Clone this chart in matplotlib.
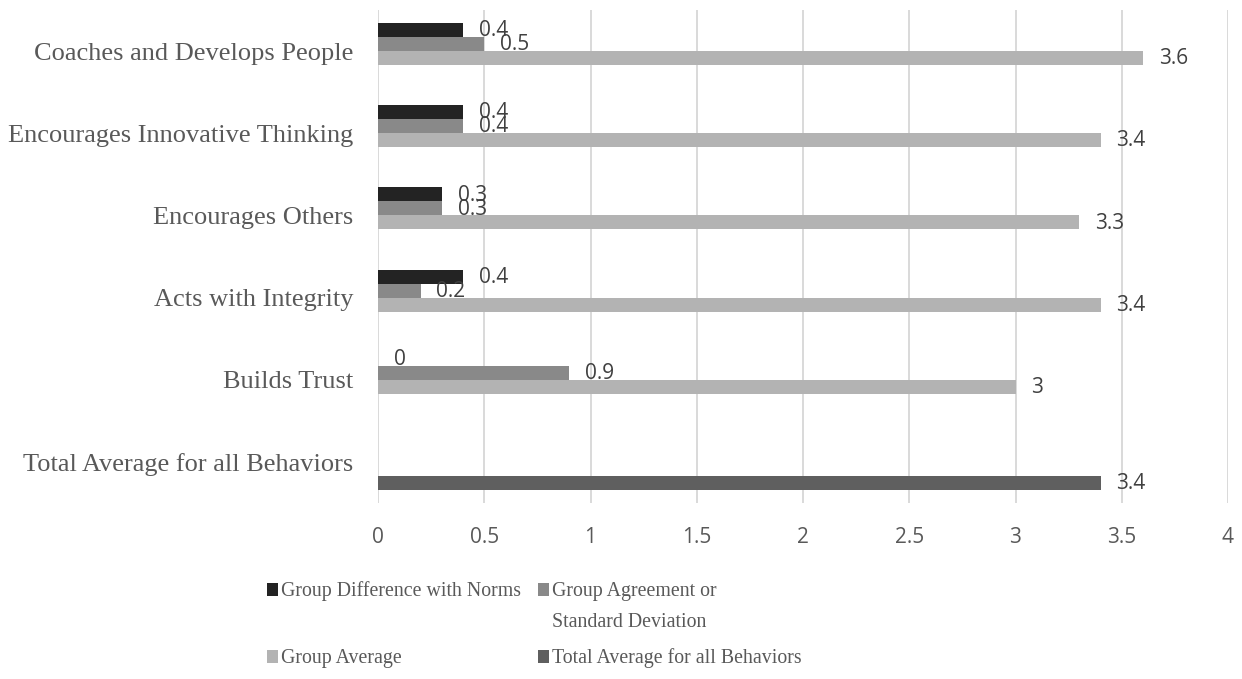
import numpy as np
import matplotlib.pyplot as plt
from matplotlib.patches import Rectangle

# Leadership behaviour scores, listed top to bottom
behaviors = ['Coaches and Develops People', 'Encourages Innovative Thinking',
             'Encourages Others', 'Acts with Integrity', 'Builds Trust',
             'Total Average for all Behaviors']
diff_norms = [0.4, 0.4, 0.3, 0.4, 0.0, np.nan]
agreement_sd = [0.5, 0.4, 0.3, 0.2, 0.9, np.nan]
group_avg = [3.6, 3.4, 3.3, 3.4, 3.0, np.nan]
total_avg = [np.nan, np.nan, np.nan, np.nan, np.nan, 3.4]

series_names = ['Group Difference with Norms', 'Group Agreement or\nStandard Deviation',
                'Group Average', 'Total Average for all Behaviors']
series_vals = [diff_norms, agreement_sd, group_avg, total_avg]
colors = ['#232323', '#898989', '#b3b3b3', '#5f5f5f']

W, H = 1242, 679
fig = plt.figure(figsize=(W / 100, H / 100), dpi=100)
ax = fig.add_axes([378 / W, 1 - 503 / H, 850 / W, 493 / H])

y = np.arange(len(behaviors))
h = 0.17
for k, (vals, col) in enumerate(zip(series_vals, colors)):
    pos = y + (k - 1.5) * h
    ax.barh(pos, vals, height=h, color=col, linewidth=0)
    for yy, v in zip(pos, vals):
        if np.isnan(v):
            continue
        ax.annotate(f'{v:g}', (v, yy), xytext=(11.5, -0.5), textcoords='offset points',
                    ha='left', va='center', fontsize=15, family='Open Sans', color='#404040')

ax.set_xlim(0, 4)
ax.set_ylim(5.5, -0.5)
xt = np.arange(0, 4.01, 0.5)
ax.set_xticks(xt)
ax.set_xticklabels([f'{t:g}' for t in xt], family='Open Sans', fontsize=15, color='#595959')
ax.set_yticks(y)
ax.set_yticklabels(behaviors, family='Liberation Serif', fontsize=19, color='#595959')
ax.tick_params(axis='x', length=0, pad=17)
ax.tick_params(axis='y', length=0, pad=18)
ax.grid(axis='x', color='#d9d9d9', linewidth=1.4)
ax.set_axisbelow(True)
for s in ax.spines.values():
    s.set_visible(False)

# legend laid out in two rows of two
legend_pos = [(267, 590), (538, 590), (267, 657), (538, 657)]
for (lx, ly), name, col in zip(legend_pos, series_names, colors):
    fig.add_artist(Rectangle((lx / W, 1 - (ly + 6) / H), 11 / W, 13 / H,
                             transform=fig.transFigure, color=col, linewidth=0))
    n_lines = name.count('\n') + 1
    cy = ly + 1 + (n_lines - 1) * 16
    fig.text((lx + 14) / W, 1 - cy / H, name, ha='left', va='center',
             family='Liberation Serif', fontsize=14.3, color='#595959', linespacing=1.8)

fig.savefig('out.png', dpi=100)
